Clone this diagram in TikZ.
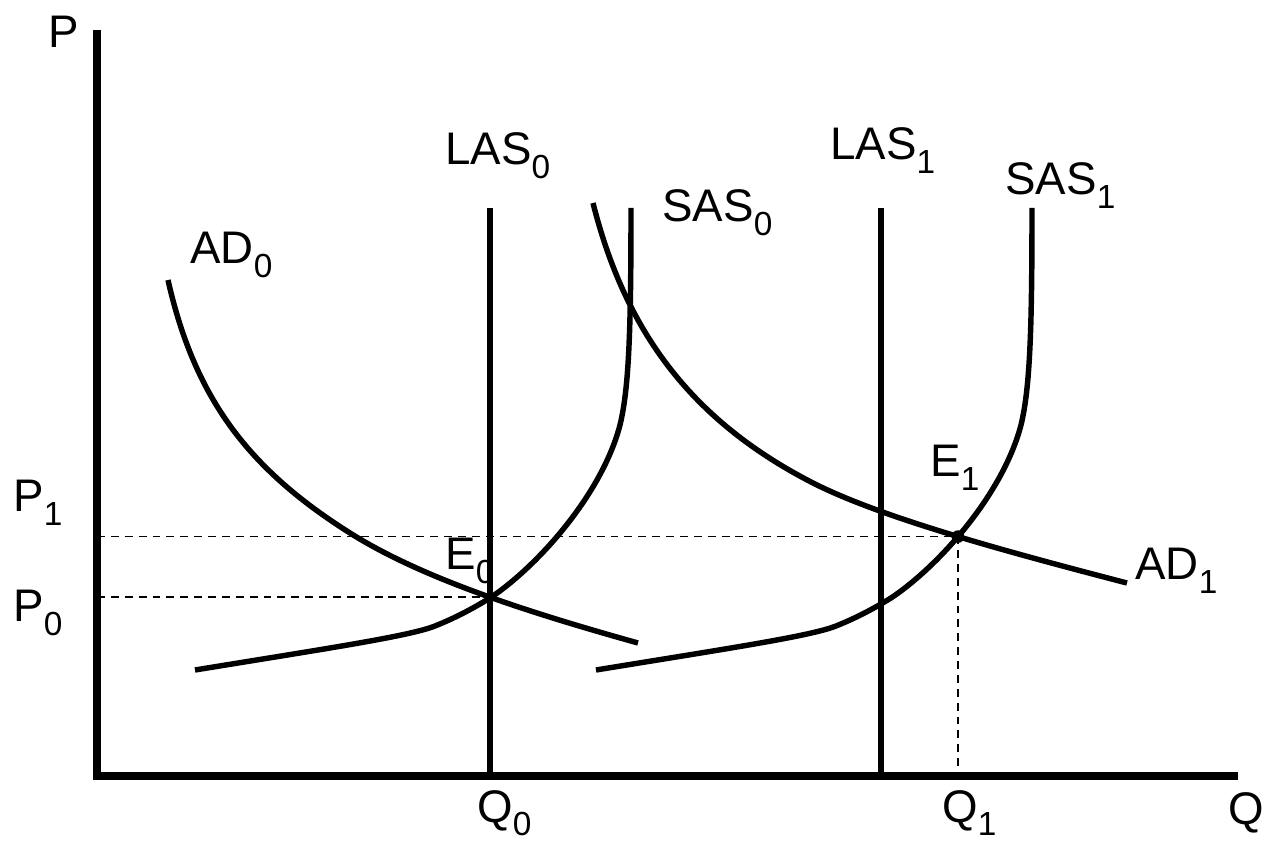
\documentclass[tikz,border=0pt]{standalone}
\usepackage{fontspec}
\setmainfont{Liberation Sans}
\usetikzlibrary{positioning,intersections}
\newcommand{\sbs}[1]{\raisebox{-7.5pt}{\fontsize{19}{19}\selectfont #1}}
\tikzset{
  axisline/.style={line width=4pt,line join=miter},
  curve/.style={line width=3.1pt},
  guide/.style={line width=0.9pt,dash pattern=on 4.5pt off 3.4pt},
  lbl/.style={font=\fontsize{26}{28}\selectfont,inner sep=0pt,anchor=base west},
}

\begin{document}
\begin{tikzpicture}[x=0.02cm,y=-0.02cm]
\useasboundingbox (0,0) rectangle (1262,844);
% axes
\coordinate (ytop) at (97,30);
\coordinate (O) at (97,776);
\coordinate (xend) at (1238,776);
\draw[axisline] (ytop) -- (O) -- (xend);
% long-run supply
\foreach \i/\x in {0/490,1/881} {
  \coordinate (las\i top) at (\x,208);
  \coordinate (las\i bot) at (\x,776);
  \draw[curve,name path global=las\i] (las\i top) -- (las\i bot);
}
% short-run supply, the second one moved right
\foreach \i/\dx in {0/0,1/401} {
  \begin{scope}[shift={(\dx,0)}]
    \draw[curve,name path global=sas\i] (195,670) .. controls (330,648) and (410,636) .. (435,626)
      .. controls (455,618) and (472,609) .. (490,598)
      .. controls (538,566) and (602,494) .. (620,425)
      .. controls (629,388) and (631,330) .. (631,208);
  \end{scope}
}
% aggregate demand
\draw[curve,name path=ad0] (168,280) .. controls (195,400) and (250,470) .. (350,533)
  .. controls (420,577) and (520,610) .. (638,643);
\draw[curve,name path=ad1] (593,203) .. controls (625,330) and (690,420) .. (813,483)
  .. controls (880,517) and (1000,550) .. (1127,583);
% equilibria
\path[name intersections={of=ad0 and las0,by=E0}];
\path[name intersections={of=ad1 and sas1,by=E1}];
\draw[guide] (ytop |- E1) -- (E1) -- (E1 |- O);
\draw[guide] (ytop |- E0) -- (E0);
\fill (E1) circle[radius=3.6pt];
% labels
\node[lbl] (Plab) at (48,48) {P};
\node[lbl] (Qlab) at (1228,824) {Q};
\node[lbl] (P1lab) at (13,512) {P\sbs{1}};
\node[lbl] (P0lab) at (13,622) {P\sbs{0}};
\node[lbl] (Q0lab) at (477,822) {Q\sbs{0}};
\node[lbl] (Q1lab) at (942,822) {Q\sbs{1}};
\node[lbl] (LAS0lab) at (445,165) {LAS\sbs{0}};
\node[lbl] (LAS1lab) at (830,160) {LAS\sbs{1}};
\node[lbl] (SAS0lab) at (662,222) {SAS\sbs{0}};
\node[lbl] (SAS1lab) at (1005,195) {SAS\sbs{1}};
\node[lbl] (AD0lab) at (190,264) {AD\sbs{0}};
\node[lbl] (AD1lab) at (1135,580) {AD\sbs{1}};
\node[lbl] (E0lab) at (445,570) {E\sbs{0}};
\node[lbl] (E1lab) at (930,477) {E\sbs{1}};
\end{tikzpicture}
\end{document}
